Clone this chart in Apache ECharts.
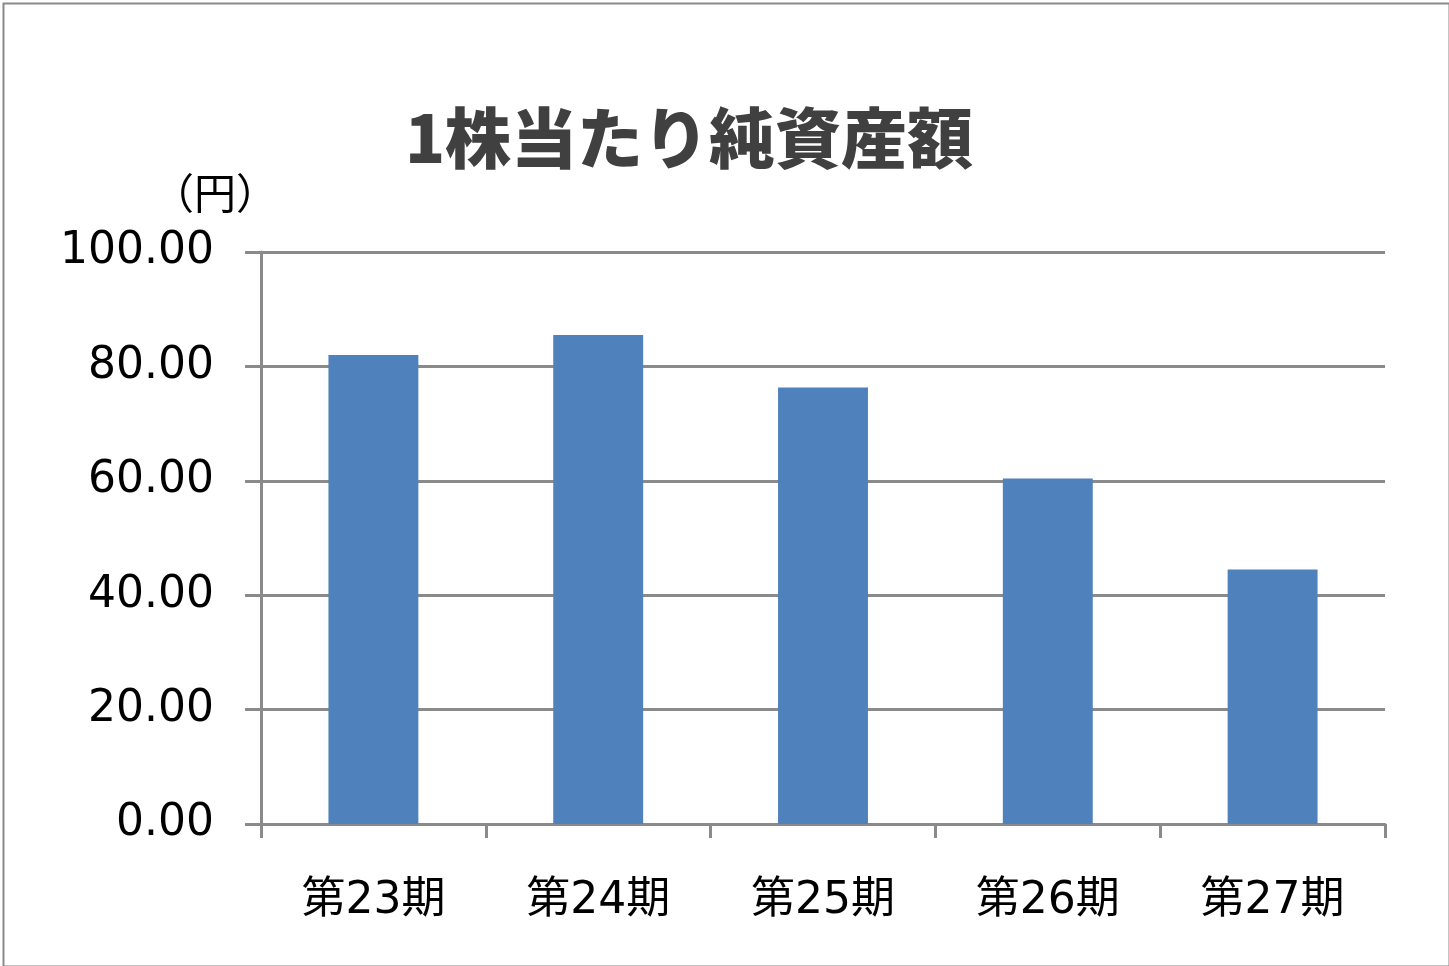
<!DOCTYPE html>
<html>
<head>
<meta charset="utf-8">
<script src="https://cdn.jsdelivr.net/npm/echarts@6/dist/echarts.min.js"></script>
<style>
html,body{margin:0;padding:0;background:#fff;}
#c{width:1449px;height:966px;}
</style>
</head>
<body>
<div id="c"></div>
<script>
var categories = ['第23期', '第24期', '第25期', '第26期', '第27期'];
var values = [82.0, 85.5, 76.3, 60.4, 44.5];
var yTicks = { min: 0, max: 100, interval: 20 };
var titleText = '1株当たり純資産額';
var unitText = '（円）';

var chart = echarts.init(document.getElementById('c'));
var gray = '#8a8a8a';
chart.setOption({
  animation: false,
  backgroundColor: '#ffffff',
  title: {
    text: titleText,
    left: 684,
    top: 100,
    textAlign: 'center',
    textStyle: {
      fontFamily: 'Noto Sans CJK JP',
      fontWeight: 900,
      fontSize: 66,
      color: '#404040'
    }
  },
  graphic: [
    {
      type: 'rect',
      left: 1, top: 1,
      shape: { width: 1446, height: 963 },
      style: { fill: 'none', stroke: gray, lineWidth: 2 }
    },
    {
      type: 'text',
      left: 152, top: 172,
      style: {
        text: unitText,
        font: '42px "Noto Sans CJK JP"',
        fill: '#000'
      }
    }
  ],
  grid: { left: 261, right: 64, top: 252, bottom: 142, containLabel: false },
  xAxis: {
    type: 'category',
    data: categories,
    axisLine: { show: true, lineStyle: { color: gray, width: 3 } },
    axisTick: { show: true, length: 14, lineStyle: { color: gray, width: 3 } },
    axisLabel: {
      margin: 56,
      fontSize: 44,
      color: '#000',
      fontFamily: 'DejaVu Sans, Noto Sans CJK JP'
    }
  },
  yAxis: {
    type: 'value',
    min: yTicks.min, max: yTicks.max, interval: yTicks.interval,
    axisLine: { show: true, lineStyle: { color: gray, width: 3 } },
    axisTick: { show: true, length: 16, lineStyle: { color: gray, width: 3 } },
    splitLine: { show: true, lineStyle: { color: gray, width: 3 } },
    axisLabel: {
      margin: 47,
      fontSize: 44,
      lineHeight: 44,
      color: '#000',
      fontFamily: 'DejaVu Sans',
      verticalAlign: 'middle',
      padding: [12, 0, 0, 0],
      formatter: function (v) { return v.toFixed(2); }
    }
  },
  series: [{
    type: 'bar',
    data: values,
    barWidth: '40%',
    itemStyle: { color: '#4F81BD' }
  }]
});
</script>
</body>
</html>
